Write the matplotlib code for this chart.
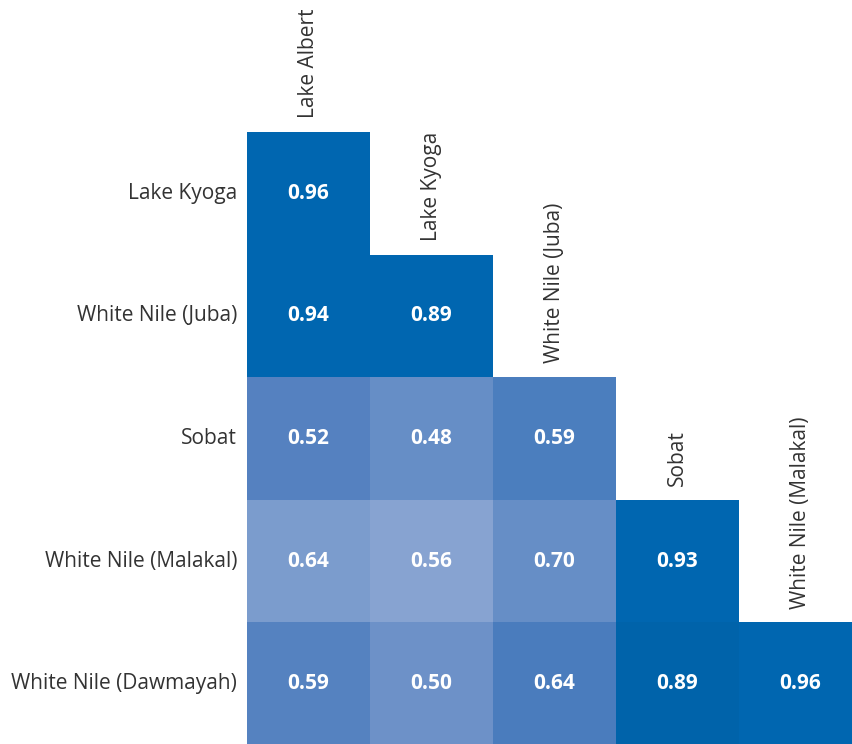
import numpy as np
import matplotlib.pyplot as plt
from matplotlib.patches import Rectangle

plt.rcParams['font.family'] = ['Open Sans', 'DejaVu Sans']

row_labels = ["Lake Kyoga", "White Nile (Juba)", "Sobat",
              "White Nile (Malakal)", "White Nile (Dawmayah)"]
col_labels = ["Lake Albert", "Lake Kyoga", "White Nile (Juba)",
              "Sobat", "White Nile (Malakal)"]

# correlation values, lower triangle (None = empty)
values = [
    [0.96, None, None, None, None],
    [0.94, 0.89, None, None, None],
    [0.52, 0.48, 0.59, None, None],
    [0.64, 0.56, 0.70, 0.93, None],
    [0.59, 0.50, 0.64, 0.89, 0.96],
]

# cell shading
cell_colors = [
    ["#0066b0", None, None, None, None],
    ["#0066b0", "#0066b0", None, None, None],
    ["#5581c0", "#668ec6", "#4b7ebe", None, None],
    ["#7b9ccd", "#87a3d1", "#668ec6", "#0066b0", None],
    ["#5582c0", "#6d91c8", "#4a7cbd", "#0063aa", "#0066b0"],
]

fig = plt.figure(figsize=(8.53, 7.44), dpi=100)
ax = fig.add_axes([247 / 853, -1 / 744, 615 / 853, 613 / 744])

n = len(row_labels)
for i in range(n):
    for j in range(n):
        v = values[i][j]
        if v is None:
            continue
        ax.add_patch(Rectangle((j, i), 1, 1, facecolor=cell_colors[i][j],
                               edgecolor='none'))
        ax.text(j + 0.5, i + 0.5, f"{v:.2f}", ha='center', va='center',
                color='white', fontsize=15, fontweight='bold')

ax.set_xlim(0, n)
ax.set_ylim(n, 0)
ax.axis('off')

# row labels on the left
for i, lab in enumerate(row_labels):
    ax.annotate(lab, xy=(0, i + 0.5), xytext=(-7, 0),
                textcoords='offset points', ha='right', va='center',
                fontsize=15, color='#333333')

# column labels above the top cell of each column
for j, lab in enumerate(col_labels):
    ax.annotate(lab, xy=(j + 0.5, j), xytext=(0, 10),
                textcoords='offset points', ha='center', va='bottom',
                rotation=90, fontsize=15, color='#333333')

fig.savefig("out.png", dpi=100)
